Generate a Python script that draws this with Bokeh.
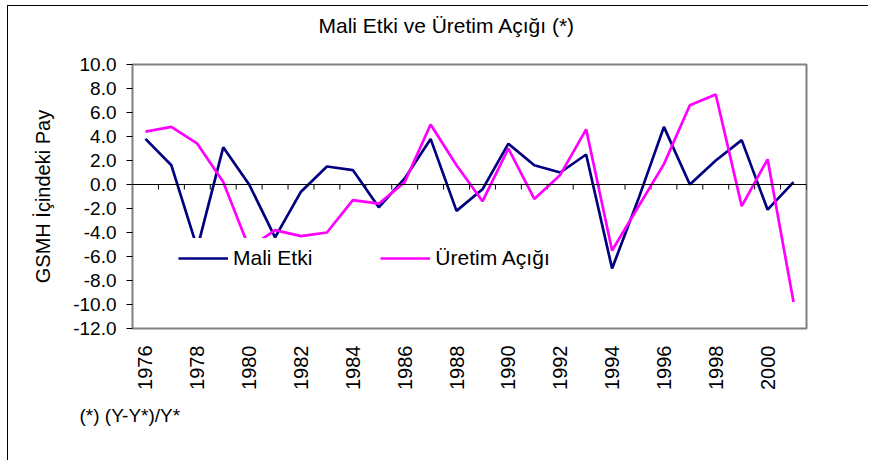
import math
from bokeh.plotting import figure
from bokeh.models import (Span, Title, Legend, LegendItem, FixedTicker,
                          PrintfTickFormatter, Range1d)
from bokeh.embed import file_html
from bokeh.resources import INLINE

# ---------------- data ----------------
years = list(range(1976, 2002))
mali_etki = [3.8, 1.6, -5.3, 3.1, 0.0, -4.4, -0.6, 1.5, 1.2, -1.9, 0.5, 3.8, -2.2,
             -0.4, 3.4, 1.6, 1.0, 2.5, -7.0, -1.3, 4.8, 0.0, 2.0, 3.7, -2.1, 0.2]
uretim_acigi = [4.4, 4.8, 3.4, 0.2, -5.3, -3.8, -4.3, -4.0, -1.3, -1.6, 0.2, 5.0, 1.6,
                -1.4, 3.0, -1.2, 0.8, 4.6, -5.5, -1.9, 1.7, 6.6, 7.5, -1.8, 2.1, -9.8]
year_ticks = list(range(1976, 2001, 2))
y_ticks = list(range(-12, 11, 2))

title_text = "Mali Etki ve Üretim Açığı (*)"
note_text = "(*) (Y-Y*)/Y*"
y_label = "GSMH İçindeki Pay"
series_names = ["Mali Etki", "Üretim Açığı"]

FONT = "Liberation Sans"

p = figure(width=861, height=455, output_backend="svg", toolbar_location=None,
           x_range=Range1d(years[0] - 0.5, years[-1] + 0.5),
           y_range=Range1d(min(y_ticks), max(y_ticks)),
           min_border_left=124, min_border_right=63,
           min_border_top=58, min_border_bottom=133, title=None)
p.margin = (6, 0, 0, 8)
p.styles = {"box-shadow": "-1px -1px 0 0 black"}
p.xgrid.visible = False
p.ygrid.visible = False
p.outline_line_color = "#808080"
p.outline_line_width = 2
p.background_fill_color = "white"
p.border_fill_color = "white"

xa = p.xaxis[0]
xa.ticker = FixedTicker(ticks=year_ticks)
xa.major_label_orientation = math.pi / 2
xa.axis_line_color = None
xa.major_tick_line_color = None
xa.minor_tick_line_color = None
xa.major_label_standoff = 11
xa.major_label_text_font = FONT
xa.major_label_text_font_size = "20px"
xa.major_label_text_color = "black"

ya = p.yaxis[0]
ya.ticker = FixedTicker(ticks=y_ticks)
ya.formatter = PrintfTickFormatter(format="%.1f")
ya.axis_line_color = None
ya.major_tick_out = 6
ya.major_tick_in = 0
ya.major_tick_line_color = "black"
ya.minor_tick_line_color = None
ya.major_label_standoff = 10
ya.major_label_text_font = FONT
ya.major_label_text_font_size = "19px"
ya.major_label_text_color = "black"
ya.axis_label = y_label
ya.axis_label_text_font = FONT
ya.axis_label_text_font_size = "20px"
ya.axis_label_text_font_style = "normal"
ya.axis_label_text_color = "black"
ya.axis_label_standoff = 16

# zero line with category tick marks
p.add_layout(Span(location=0, dimension="width", line_color="black", line_width=1))
bounds = [y + 0.5 for y in years]
p.segment(x0=bounds, y0=[0] * len(bounds), x1=bounds, y1=[-0.42] * len(bounds),
          line_color="black", line_width=1)

r1 = p.line(years, mali_etki, line_color="#000080", line_width=2.7)
r2 = p.line(years, uretim_acigi, line_color="#FF00FF", line_width=2.7)

legend = Legend(items=[LegendItem(label=series_names[0], renderers=[r1]),
                       LegendItem(label=series_names[1], renderers=[r2])],
                orientation="horizontal", location=(38, 50),
                glyph_width=50, glyph_height=20, label_standoff=5, spacing=68,
                padding=8, margin=0, border_line_color="white", border_line_alpha=0.0,
                background_fill_color="white", background_fill_alpha=1.0,
                label_text_font=FONT, label_text_font_size="21px",
                label_text_color="black", level="overlay")
p.add_layout(legend)

p.add_layout(Title(text=title_text + "\n", align="left", offset=186, standoff=10,
                   text_font=FONT, text_font_size="21px", text_font_style="normal",
                   text_color="black"), "above")
p.add_layout(Title(text=note_text, align="left", offset=-53, standoff=21,
                   text_font=FONT, text_font_size="19px", text_font_style="normal",
                   text_color="black"), "below")

open("out.html", "w").write(file_html(p, INLINE))
